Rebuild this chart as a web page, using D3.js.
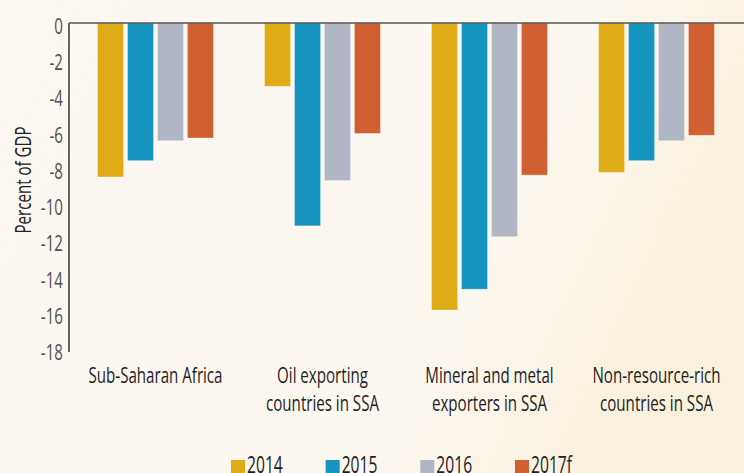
<!DOCTYPE html>
<html>
<head>
<meta charset="utf-8">
<script src="https://cdn.jsdelivr.net/npm/d3@7"></script>
<style>
  html, body { margin: 0; padding: 0; }
  body { width: 744px; height: 473px; overflow: hidden; }
  svg { display: block; font-family: "Open Sans", "Noto Sans", sans-serif; }
</style>
</head>
<body>
<svg id="chart"></svg>
<script>
// data
const categories = [
  ['Sub-Saharan Africa'],
  ['Oil exporting', 'countries in SSA'],
  ['Mineral and metal', 'exporters in SSA'],
  ['Non-resource-rich', 'countries in SSA']
];
const years = ['2014', '2015', '2016', '2017f'];
const values2014 = [-8.5, -3.5, -15.85, -8.25];
const values2015 = [-7.6, -11.2, -14.7, -7.6];
const values2016 = [-6.5, -8.7, -11.8, -6.5];
const values2017f = [-6.35, -6.1, -8.4, -6.2];
const yTicks = [0, -2, -4, -6, -8, -10, -12, -14, -16, -18];
const colors = ['#dfab17', '#1795c1', '#b1b6c4', '#d06032'];

const series = [values2014, values2015, values2016, values2017f];

const width = 744, height = 473;
const sx = 0.72; // squeeze glyphs to get a condensed look
const svg = d3.select('#chart').attr('width', width).attr('height', height);

// background
const defs = svg.append('defs');
const bg = defs.append('linearGradient').attr('id', 'bg')
  .attr('x1', '0%').attr('y1', '0%').attr('x2', '100%').attr('y2', '30%');
bg.append('stop').attr('offset', '0%').attr('stop-color', '#fcf8f2');
bg.append('stop').attr('offset', '75%').attr('stop-color', '#fcf7ef');
bg.append('stop').attr('offset', '100%').attr('stop-color', '#faf0de');
svg.append('rect').attr('width', width).attr('height', height).attr('fill', 'url(#bg)');

// scales
const x0 = d3.scaleBand().domain(d3.range(categories.length)).range([72, 740]);
const x1 = d3.scaleBand().domain(years).range([-58, 58]).paddingInner(0.13);
const y = d3.scaleLinear().domain([-18, 0]).range([349, 23]);

// bars
const groups = svg.append('g').selectAll('g')
  .data(categories)
  .join('g')
  .attr('transform', (d, i) => `translate(${x0(i) + x0.bandwidth() / 2},0)`);

groups.selectAll('rect')
  .data((d, i) => years.map((yr, j) => ({ yr, j, v: series[j][i] })))
  .join('rect')
  .attr('x', d => x1(d.yr))
  .attr('width', x1.bandwidth())
  .attr('y', y(0))
  .attr('height', d => y(d.v) - y(0))
  .attr('fill', d => colors[d.j])
  .attr('stroke', '#ffffff')
  .attr('stroke-opacity', 0.35)
  .attr('stroke-width', 1);

// y axis
const yAxis = svg.append('g')
  .attr('transform', 'translate(69,0)')
  .call(d3.axisLeft(y).tickValues(yTicks).tickSize(0).tickPadding(0)
    .tickFormat(d => d === 0 ? '0' : '-' + Math.abs(d)));
yAxis.select('.domain').remove();
yAxis.selectAll('text')
  .attr('x', -6 / sx)
  .attr('dy', '0.5em')
  .attr('transform', `scale(${sx},1)`)
  .attr('fill', '#505050')
  .style('font-size', '21px')
  .style('font-family', '"Open Sans", "Noto Sans", sans-serif');

svg.append('line')
  .attr('x1', 69).attr('x2', 69)
  .attr('y1', y(0)).attr('y2', y(-18) + 3)
  .attr('stroke', '#333').attr('stroke-width', 1.5);

// zero line
svg.append('line')
  .attr('x1', 69).attr('x2', width)
  .attr('y1', y(0)).attr('y2', y(0))
  .attr('stroke', '#555').attr('stroke-width', 1.6);

// y title
svg.append('text')
  .attr('transform', `translate(31,180) rotate(-90) scale(${sx},1)`)
  .attr('text-anchor', 'middle')
  .attr('fill', '#222')
  .style('font-size', '21px')
  .text('Percent of GDP');

// category labels
categories.forEach((lines, i) => {
  const t = svg.append('text')
    .attr('transform', `translate(${x0(i) + x0.bandwidth() / 2},383) scale(${sx},1)`)
    .attr('text-anchor', 'middle')
    .attr('fill', '#1e1e1e')
    .style('font-size', '21px');
  lines.forEach((ln, k) => {
    t.append('tspan')
      .attr('x', 0)
      .attr('y', k * 28)
      .text(ln);
  });
});

// legend
const legendX = d3.scalePoint().domain(years).range([231, 515]);
const legend = svg.append('g').selectAll('g')
  .data(years)
  .join('g')
  .attr('transform', d => `translate(${legendX(d)},460)`);
legend.append('rect')
  .attr('width', 14).attr('height', 16)
  .attr('fill', (d, i) => colors[i]);
legend.append('text')
  .attr('transform', `translate(16,13) scale(0.68,1)`)
  .attr('fill', '#1e1e1e')
  .style('font-size', '23px')
  .text(d => d);
</script>
</body>
</html>
